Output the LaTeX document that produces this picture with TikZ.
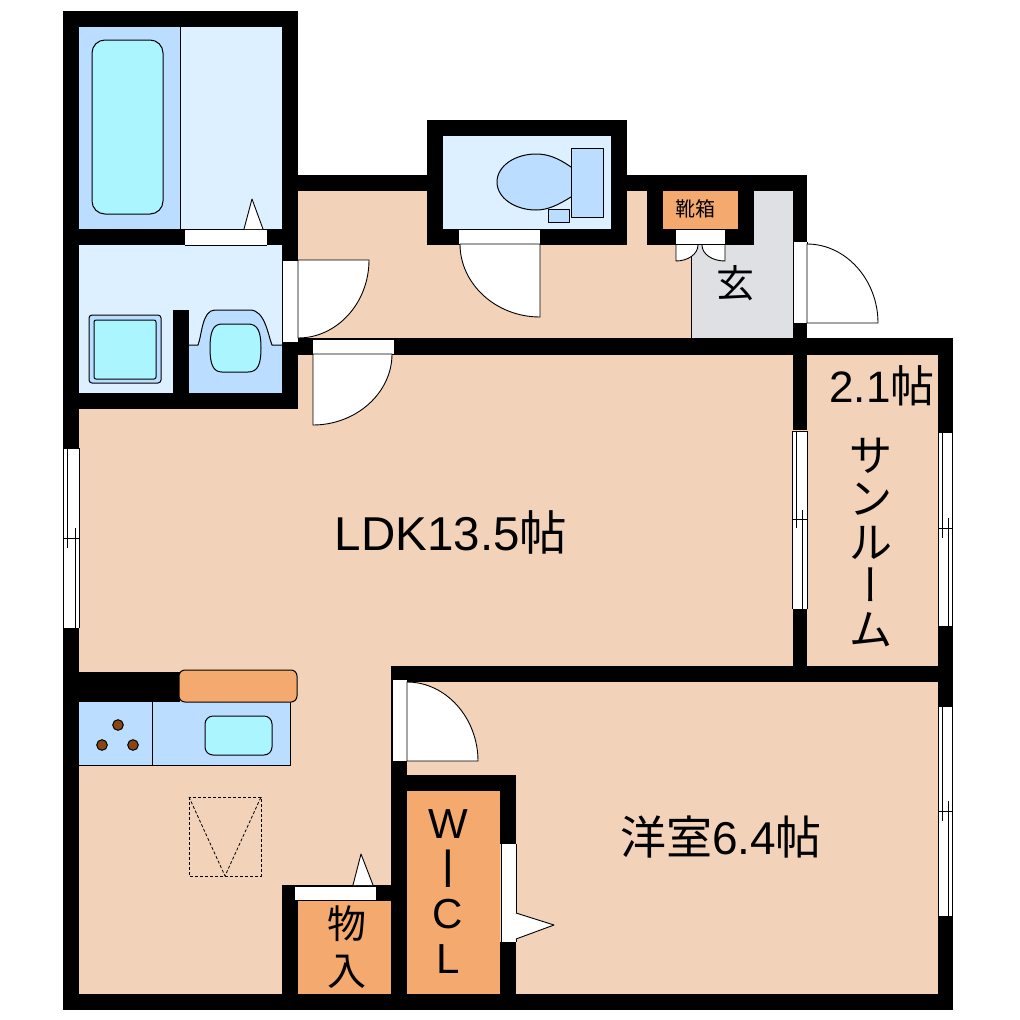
\documentclass[tikz,border=0pt]{standalone}
\usepackage{fontspec}
\setmainfont{Liberation Sans}
\newfontfamily\jp{Noto Sans CJK JP}
\newfontfamily\jpv[Script=CJK,RawFeature=+vert]{Noto Sans CJK JP}
\definecolor{floorc}{HTML}{F2D2B8}
\definecolor{wetc}{HTML}{DDF0FF}
\definecolor{bluec}{HTML}{BBDDFF}
\definecolor{cyanc}{HTML}{AAF5FF}
\definecolor{storec}{HTML}{F4A96E}
\definecolor{grayc}{HTML}{DFE0E3}
\definecolor{burnerc}{HTML}{8B4513}
\tikzset{
  wall/.style={fill=black,draw=none},
  thin line/.style={draw=black,line width=1pt},
  fixture/.style={thin line,fill=bluec},
  basin/.style={thin line,fill=cyanc},
  leaf/.style={fill=white,draw=black,line width=.9pt},
  label/.style={inner sep=0pt,align=center,text=black},
}
\begin{document}
\begin{tikzpicture}[x=1pt,y=-1pt,line join=round]
\useasboundingbox (0,0) rectangle (1020,1020);
\fill[white] (0,0) rectangle (1020,1020);
% floors
\fill[floorc] (70,340) rectangle (945,1000);
\fill[floorc] (290,183) rectangle (800,345);
% wet rooms
\fill[wetc] (79,27) rectangle (282,229);
\fill[bluec] (79,27) rectangle (180,229);
\draw[thin line] (180,27) -- (180,229);
\fill[wetc] (79,245) rectangle (282,393);
\fill[wetc] (443,136) rectangle (611,229);
% genkan
\fill[grayc] (691,245) rectangle (793,338) (754,191) rectangle (793,245);
\draw[thin line] (691,245) -- (691,338);
% storage
\fill[storec] (663,191) rectangle (738,229);
\fill[storec] (298,901) rectangle (391,994);
\fill[storec] (407,791) rectangle (500,994);
% bath tub
\draw[basin,rounded corners=13pt] (92,40) rectangle (163,214);
% washer
\draw[thin line,fill=bluec,rounded corners=3pt] (89,315) rectangle (161,383);
\draw[basin,rounded corners=2pt] (94,320) rectangle (156,379);
% vanity
\fill[bluec] (189,345) rectangle (282,393);
\draw[fixture] (189,345) -- (198,345) .. controls (202,335) and (202,310) .. (215,310) -- (250,310) .. controls (265,310) and (268,335) .. (272,345) -- (282,345);
\draw[basin] (222,324) -- (248,324) .. controls (258,324) and (261,332) .. (261,348) .. controls (261,364) and (258,372) .. (248,372) -- (222,372) .. controls (213,372) and (210,364) .. (210,348) .. controls (210,332) and (213,324) .. (222,324) -- cycle;
% toilet
\draw[fixture] (571,167) .. controls (558,158) and (548,154) .. (536,154) .. controls (515,154) and (497,166) .. (497,182) .. controls (497,198) and (515,210) .. (536,210) .. controls (548,210) and (558,205) .. (571,197);
\draw[fixture] (571,148) rectangle (603,217);
\draw[fixture] (548,209) rectangle (569,222);
% kitchen
\fill[bluec] (79,702) rectangle (290,765);
\draw[thin line] (79,765) -- (290,765) -- (290,702);
\draw[thin line] (152,702) -- (152,765);
\draw[basin,rounded corners=8pt] (205,716) rectangle (272,755);
\draw[thin line,fill=burnerc] (118,725) circle (5.3) (102,745) circle (5.3) (133,745) circle (5.3);
\draw[thin line,densely dashed,line width=.8pt] (189,797) rectangle (261,876);
\draw[thin line,densely dashed,line width=.8pt] (189,797) -- (225,876) -- (261,797);
% walls
\fill[wall] (63,11) rectangle (298,27);
\fill[wall] (63,11) rectangle (79,448);
\fill[wall] (63,628) rectangle (79,1010);
\fill[wall] (282,11) rectangle (298,260);
\fill[wall] (79,229) rectangle (298,245);
\fill[wall] (173,310) rectangle (189,409);
\fill[wall] (282,342) rectangle (298,409);
\fill[wall] (63,393) rectangle (298,409);
\fill[wall] (298,175) rectangle (443,191);
\fill[wall] (427,120) rectangle (627,136);
\fill[wall] (427,120) rectangle (443,245);
\fill[wall] (611,120) rectangle (627,245);
\fill[wall] (427,229) rectangle (627,245);
\fill[wall] (611,175) rectangle (807,191);
\fill[wall] (647,175) rectangle (663,245);
\fill[wall] (738,175) rectangle (754,245);
\fill[wall] (647,229) rectangle (754,245);
\fill[wall] (793,175) rectangle (807,242);
\fill[wall] (793,323) rectangle (807,430);
\fill[wall] (282,338) rectangle (953,355);
\fill[wall] (938,338) rectangle (953,432);
\fill[wall] (793,609) rectangle (807,682);
\fill[wall] (938,626) rectangle (953,706);
\fill[wall] (391,666) rectangle (953,682);
\fill[wall] (938,916) rectangle (953,1010);
\fill[wall] (63,994) rectangle (953,1010);
\fill[wall] (79,672) rectangle (180,702);
\fill[wall] (391,666) rectangle (407,1000);
\fill[wall] (391,775) rectangle (516,791);
\fill[wall] (500,775) rectangle (516,844);
\fill[wall] (500,942) rectangle (516,1000);
\fill[wall] (282,885) rectangle (407,901);
\fill[wall] (282,885) rectangle (298,1000);
% kitchen shelf
\draw[thin line,fill=storec,rounded corners=6pt] (179,670) rectangle (297,702);
% door openings
\fill[white] (185,229) rectangle (267,245);
\draw[line width=.9pt] (185,245) -- (267,245) (185,229) -- (267,229);
\fill[white] (282,260) rectangle (298,342);
\draw[line width=.9pt] (282,260) -- (282,342) (298,260) -- (298,342) (282,260) -- (298,260);
\fill[white] (313,340) rectangle (394,354);
\draw[line width=.9pt] (313,339) -- (394,339) (313,354) -- (394,354);
\fill[white] (459,229) rectangle (540,244);
\draw[line width=.9pt] (459,244) -- (540,244) (459,229) -- (540,229);
\fill[white] (676,229) rectangle (725,244);
\draw[line width=.9pt] (676,244) -- (725,244) (676,229) -- (725,229);
\fill[white] (793,242) rectangle (807,323);
\draw[line width=.9pt] (793,242) -- (793,323) (807,242) -- (807,323) (793,323) -- (807,323);
\fill[white] (392,680) rectangle (407,761);
\draw[line width=.9pt] (392,680) -- (392,761) (407,680) -- (407,761) (392,761) -- (407,761);
\fill[white] (295,886) rectangle (376,900);
\draw[line width=.9pt] (295,886) -- (376,886) (295,900) -- (376,900);
\fill[white] (501,844) rectangle (516,942);
\draw[line width=.9pt] (501,844) -- (501,942) (516,844) -- (516,942);
% door leaves
\draw[leaf] (298,260) -- (369,260) .. controls (369,303) and (337,338) .. (298,338) -- cycle;
\draw[leaf] (313,354) -- (392,354) .. controls (392,393) and (356,425) .. (313,425) -- cycle;
\draw[leaf] (540,244) -- (540,317) .. controls (496,317) and (460,284) .. (460,244) -- cycle;
\draw[leaf] (698,245) .. controls (698,254) and (688,261) .. (676,261) -- (676,245);
\draw[leaf] (702,245) .. controls (702,254) and (712,261) .. (725,261) -- (725,245);
\draw[leaf] (807,323) -- (878,323) .. controls (878,280) and (846,244) .. (807,244) -- cycle;
\draw[leaf] (407,761) -- (478,761) .. controls (478,718) and (446,682) .. (407,682) -- cycle;
% sliding door markers
\draw[leaf] (244,229) -- (252,199) -- (263,229);
\draw[leaf] (353,885) -- (361,854) -- (373,885);
\draw[leaf] (516,913) -- (554,925) -- (516,939);
% windows
\fill[white] (63,448) rectangle (79,628);
\draw[line width=.9pt] (63,448) -- (63,628) (79,448) -- (79,628) (63,448) -- (79,448) (63,628) -- (79,628) (67,448) -- (67,548) (75,528) -- (75,628) (63,538) -- (79,538);
\fill[white] (792,431) rectangle (807,609);
\draw[line width=.9pt] (792,431) -- (792,609) (807,431) -- (807,609) (792,431) -- (807,431) (796,431) -- (796,528) (802,510) -- (802,609) (792,519) -- (807,519);
\fill[white] (938,432) rectangle (953,626);
\draw[line width=.9pt] (938,432) -- (938,626) (952,432) -- (952,626) (938,432) -- (952,432) (942,432) -- (942,538) (948,518) -- (948,626) (938,528) -- (952,528);
\fill[white] (938,706) rectangle (953,916);
\draw[line width=.9pt] (938,706) -- (938,916) (952,706) -- (952,916) (938,706) -- (952,706) (942,706) -- (942,821) (948,801) -- (948,916) (938,811) -- (952,811);
% labels
\node[label,font=\fontsize{47.5}{50}\selectfont] (ldk) at (451,532) {LDK13.5{\jp 帖}};
\node[label,font=\fontsize{46}{50}\selectfont] (yoshitsu) at (721,837) {{\jp 洋室}6.4{\jp 帖}};
\node[label,font=\fontsize{44}{46}\selectfont] (sun21) at (882,386) {2.1{\jp 帖}};
\node[label,font=\fontsize{43}{43.5}\selectfont\jp] (sun) at (871,542) {サ\\ン\\ル\\{\jpv ー}\\ム};
\node[label,font=\fontsize{42}{45}\selectfont] (wicl) at (448,892) {W\\\smash{\raisebox{-4pt}{\scalebox{1}[1.3]{I}}}\\C\\L};
\node[label,font=\fontsize{39}{47}\selectfont\jp] (mono) at (347,947) {物\\入};
\node[label,font=\fontsize{38}{42}\selectfont\jp] (gen) at (735,283) {玄};
\node[label,font=\fontsize{20}{22}\selectfont\jp] (kutsu) at (695,209) {靴箱};
\end{tikzpicture}
\end{document}
